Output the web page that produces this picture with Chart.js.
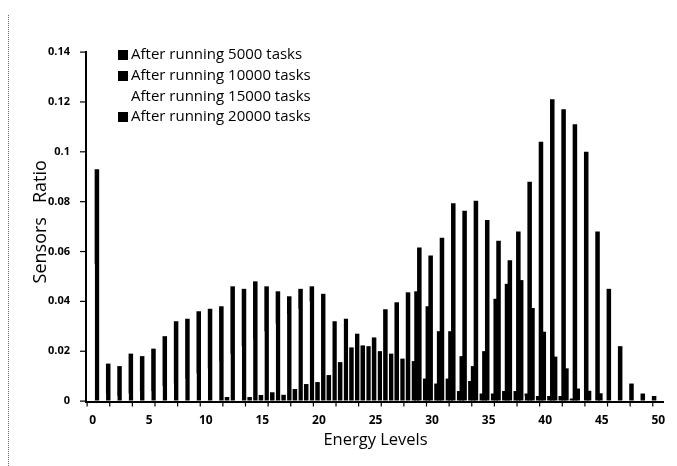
<!DOCTYPE html>
<html>
<head>
<meta charset="utf-8">
<script src="https://cdn.jsdelivr.net/npm/chart.js@4/dist/chart.umd.min.js"></script>
<style>
  html, body { margin: 0; padding: 0; background: #fff; }
  #wrap { position: relative; width: 677px; height: 466px; overflow: hidden; }
  #edge { position: absolute; left: 8px; top: 15px; width: 0; height: 451px; border-left: 1px dotted #666; }
  #legend { position: absolute; left: 118px; top: 43px; font-family: "Open Sans", sans-serif; font-size: 15px; color: #000; }
  #legend div { height: 20.8px; line-height: 20.8px; white-space: nowrap; }
  #legend span { display: inline-block; width: 10px; height: 10px; margin-right: 3px; vertical-align: -1px; }
</style>
</head>
<body>
<div id="wrap">
  <div id="edge"></div>
  <canvas id="chart" width="677" height="466"></canvas>
  <div id="legend"></div>
</div>
<script>
const energyLevels = [0, 1, 2, 3, 4, 5, 6, 7, 8, 9, 10, 11, 12, 13, 14, 15, 16, 17, 18, 19, 20,
  21, 22, 23, 24, 25, 26, 27, 28, 29, 30, 31, 32, 33, 34, 35, 36, 37, 38, 39, 40,
  41, 42, 43, 44, 45, 46, 47, 48, 49, 50];

const seriesNames = ['After running 5000 tasks', 'After running 10000 tasks',
  'After running 15000 tasks', 'After running 20000 tasks'];
const seriesColors = ['#000000', '#000000', '#ffffff', '#000000'];

const tasks5000 = [0, 0, 0, 0, 0, 0, 0, 0, 0, 0, 0, 0, 0, 0, 0, 0, 0, 0, 0, 0, 0,
  0, 0, 0, 0, 0, 0, 0, 0, 0.044, 0.038, 0.028, 0.028, 0.018, 0.014, 0.020, 0.041, 0.047, 0.068, 0.088, 0.104,
  0.121, 0.117, 0.111, 0.100, 0.068, 0.045, 0.022, 0.007, 0.003, 0.002];

const tasks10000 = [0, 0, 0, 0, 0, 0, 0, 0, 0, 0, 0, 0, 0.0016, 0, 0.0016, 0.0024, 0.0035, 0.0025, 0.0048, 0.0068, 0.0076,
  0.0104, 0.0156, 0.0215, 0.0223, 0.0255, 0.0368, 0.0396, 0.0436, 0.0616, 0.0584, 0.0655, 0.0793, 0.0763, 0.0803, 0.0726, 0.0643, 0.0565, 0.0485, 0.0373, 0.0278,
  0.0178, 0.0131, 0.005, 0.0041, 0.0031, 0, 0, 0, 0, 0];

const tasks15000 = [0.055, 0.003, 0.002, 0.003, 0.004, 0.004, 0.006, 0.007, 0.009, 0.011, 0.013, 0.016, 0.019, 0.022, 0.025, 0.028, 0.031, 0.035, 0.037, 0.040, 0.043,
  0.045, 0.047, 0.049, 0.051, 0.050, 0.048, 0.046, 0.043, 0.040, 0.035, 0.029, 0.024, 0.018, 0.013, 0.009, 0.006, 0.004, 0.002, 0.001, 0,
  0, 0, 0, 0, 0, 0, 0, 0, 0, 0];

const tasks20000 = [0.093, 0.015, 0.014, 0.019, 0.018, 0.021, 0.026, 0.032, 0.033, 0.036, 0.037, 0.038, 0.046, 0.045, 0.048, 0.046, 0.044, 0.042, 0.045, 0.046, 0.043,
  0.032, 0.033, 0.027, 0.022, 0.020, 0.019, 0.017, 0.016, 0.009, 0.007, 0.009, 0.004, 0.008, 0.003, 0.003, 0.004, 0.004, 0.003, 0.002, 0.002,
  0.002, 0.001, 0, 0, 0, 0, 0, 0, 0, 0];

const yTicks = [0, 0.02, 0.04, 0.06, 0.08, 0.1, 0.12, 0.14];

const seriesData = [tasks5000, tasks10000, tasks15000, tasks20000];

const font = 'Open Sans';

const datasets = seriesData.map((values, i) => ({
    label: seriesNames[i],
    data: values,
    backgroundColor: seriesColors[i],
    borderWidth: 0,
    // scanned bars bleed wider than their slot; the white series stays inside its own
    barPercentage: seriesColors[i] === '#ffffff' ? 0.5 : 1.6,
    categoryPercentage: 1
}));

// legend sits inside the plot, top left
const legendEl = document.getElementById('legend');
datasets.forEach(ds => {
    const row = document.createElement('div');
    const box = document.createElement('span');
    box.style.background = ds.backgroundColor;
    row.appendChild(box);
    row.appendChild(document.createTextNode(ds.label));
    legendEl.appendChild(row);
});

// axis lines and tick marks as filled rects placed from the scales
const axesPlugin = {
    id: 'axesFill',
    afterDraw(chart) {
        const { ctx, chartArea: a, scales: { x, y } } = chart;
        ctx.save();
        ctx.fillStyle = '#000';
        ctx.fillRect(a.left - 2, a.top - 1, 2, a.bottom - a.top + 3);
        ctx.fillRect(a.left - 2, a.bottom, a.right - a.left + 2, 2);
        yTicks.forEach(v => {
            const py = y.getPixelForValue(v);
            ctx.fillRect(a.left - 7, py - 0.5, 5, 1.2);
        });
        // Excel-style marks on every second category boundary
        const step = x.getPixelForTick(1) - x.getPixelForTick(0);
        for (let i = 0; i <= energyLevels.length; i += 2) {
            const px = x.getPixelForTick(0) - step / 2 + i * step;
            ctx.fillRect(px - 0.5, a.bottom + 2, 1.2, 3.5);
        }
        ctx.restore();
    }
};

new Chart(document.getElementById('chart'), {
    type: 'bar',
    data: {
        labels: energyLevels,
        datasets: datasets
    },
    plugins: [axesPlugin],
    options: {
        responsive: false,
        animation: false,
        events: [],
        layout: { padding: { left: 26, right: 13, top: 52, bottom: 12 } },
        plugins: {
            legend: { display: false },
            tooltip: { enabled: false }
        },
        scales: {
            x: {
                afterFit: s => { s.height = 53; },
                border: { display: false },
                grid: {
                    drawOnChartArea: false,
                    drawTicks: true,
                    tickLength: 4,
                    color: 'rgba(0,0,0,0)'
                },
                ticks: {
                    autoSkip: false,
                    maxRotation: 0,
                    padding: 8,
                    color: '#000',
                    font: { family: font, size: 12, weight: 'bold' },
                    callback: function (value) {
                        const lbl = this.getLabelForValue(value);
                        return lbl % 5 === 0 ? String(lbl) : '';
                    }
                },
                title: {
                    display: true,
                    text: 'Energy Levels',
                    color: '#000',
                    font: { family: font, size: 16.5 }
                }
            },
            y: {
                min: 0,
                max: 0.14,
                afterFit: s => { s.width = 61; },
                afterBuildTicks: s => { s.ticks = yTicks.map(v => ({ value: v })); },
                border: { display: false },
                grid: {
                    drawOnChartArea: false,
                    drawTicks: true,
                    tickLength: 5,
                    color: 'rgba(0,0,0,0)'
                },
                ticks: {
                    padding: 12,
                    color: '#000',
                    font: { family: font, size: 11, weight: 'bold' },
                    callback: v => String(+v.toFixed(2))
                },
                title: {
                    display: true,
                    text: '  Sensors   Ratio',
                    color: '#000',
                    font: { family: font, size: 18 }
                }
            }
        }
    }
});
</script>
</body>
</html>
